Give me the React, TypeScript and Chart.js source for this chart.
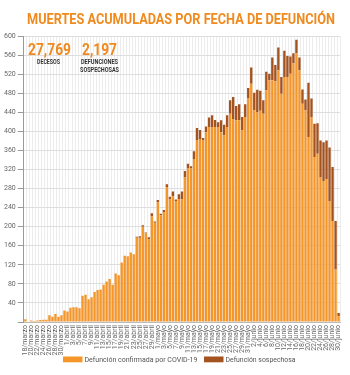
import { useEffect, useRef } from "react";
import { Chart, registerables } from "chart.js";
Chart.register(...registerables);

const dates = [
  "18/marzo","19/marzo","20/marzo","21/marzo","22/marzo","23/marzo","24/marzo","25/marzo","26/marzo","27/marzo","28/marzo","29/marzo","30/marzo","31/marzo",
  "1/abril","2/abril","3/abril","4/abril","5/abril","6/abril","7/abril","8/abril","9/abril","10/abril","11/abril","12/abril","13/abril","14/abril","15/abril","16/abril","17/abril","18/abril","19/abril","20/abril","21/abril","22/abril","23/abril","24/abril","25/abril","26/abril","27/abril","28/abril","29/abril","30/abril",
  "1/mayo","2/mayo","3/mayo","4/mayo","5/mayo","6/mayo","7/mayo","8/mayo","9/mayo","10/mayo","11/mayo","12/mayo","13/mayo","14/mayo","15/mayo","16/mayo","17/mayo","18/mayo","19/mayo","20/mayo","21/mayo","22/mayo","23/mayo","24/mayo","25/mayo","26/mayo","27/mayo","28/mayo","29/mayo","30/mayo","31/mayo",
  "1/junio","2/junio","3/junio","4/junio","5/junio","6/junio","7/junio","8/junio","9/junio","10/junio","11/junio","12/junio","13/junio","14/junio","15/junio","16/junio","17/junio","18/junio","19/junio","20/junio","21/junio","22/junio","23/junio","24/junio","25/junio","26/junio","27/junio","28/junio","29/junio","30/junio"
];

const confirmed = [
  6, 0, 3, 2, 3, 4, 5, 5, 14, 11,
  17, 11, 14, 24, 22, 30, 31, 31, 29, 55,
  57, 48, 52, 63, 67, 68, 78, 85, 90, 78,
  102, 98, 125, 139, 138, 146, 142, 177, 177, 200,
  186, 173, 222, 208, 251, 224, 230, 283, 257, 264,
  254, 258, 258, 303, 322, 322, 342, 382, 384, 381,
  398, 409, 409, 409, 409, 398, 392, 409, 437, 426,
  423, 423, 402, 430, 469, 500, 444, 440, 443, 437,
  486, 507, 507, 505, 528, 479, 514, 514, 521, 543,
  564, 528, 458, 444, 388, 430, 346, 353, 303, 296,
  300, 254, 212, 110, 12
];

const suspect = [
  0, 0, 0, 0, 0, 0, 0, 0, 0, 0,
  0, 0, 0, 0, 0, 0, 0, 0, 0, 0,
  0, 0, 0, 0, 0, 0, 0, 0, 0, 0,
  0, 0, 0, 0, 0, 0, 0, 2, 3, 3,
  2, 5, 6, 3, 5, 3, 5, 6, 6, 10,
  3, 10, 16, 14, 10, 5, 16, 25, 19, 5,
  12, 20, 25, 15, 10, 25, 22, 25, 28, 46,
  30, 34, 28, 27, 22, 34, 37, 47, 42, 28,
  39, 14, 48, 34, 48, 35, 55, 44, 36, 21,
  28, 27, 30, 23, 114, 39, 70, 64, 78, 81,
  81, 112, 113, 102, 7
];

const seriesNames = ["Defunción confirmada por COVID-19", "Defunción sospechosa"];
const titleText = "MUERTES ACUMULADAS POR FECHA DE DEFUNCIÓN";
const bigNumbers = ["27,769", "2,197"];
const bigCaptions = [["DECESOS"], ["DEFUNCIONES", "SOSPECHOSAS"]];
const yMax = 600;
const yStep = 20;

const ORANGE = "#F5962A";
const BROWN = "#A4521E";
const TITLE_ORANGE = "#F08A1E";
const FONT = 'Roboto, "Liberation Sans", sans-serif';

function fitText(ctx: CanvasRenderingContext2D, text: string, left: number, baseline: number, width: number, font: string) {
  ctx.font = font;
  const w = ctx.measureText(text).width;
  ctx.save();
  ctx.translate(left, baseline);
  ctx.scale(width / w, 1);
  ctx.textAlign = "left";
  ctx.textBaseline = "alphabetic";
  ctx.fillText(text, 0, 0);
  ctx.restore();
}

const overlay = {
  id: "overlay",
  afterDraw(chart: any) {
    const ctx = chart.ctx as CanvasRenderingContext2D;
    ctx.save();
    ctx.fillStyle = TITLE_ORANGE;
    fitText(ctx, titleText, 27, 24, 308, `bold 15.5px ${FONT}`);
    ctx.font = `bold 17.3px ${FONT}`;
    const s = 43 / ctx.measureText(bigNumbers[0]).width;
    const centers = [49.5, 99.5];
    bigNumbers.forEach((n, i) => {
      ctx.fillStyle = TITLE_ORANGE;
      ctx.font = `bold 17.3px ${FONT}`;
      const w = ctx.measureText(n).width * s;
      fitText(ctx, n, centers[i] - w / 2, 55, w, `bold 17.3px ${FONT}`);
    });
    ctx.fillStyle = "#333";
    fitText(ctx, bigCaptions[0][0], 37, 63.5, 23, `bold 6.3px ${FONT}`);
    fitText(ctx, bigCaptions[1][0], 81, 63.5, 37, `bold 6.3px ${FONT}`);
    fitText(ctx, bigCaptions[1][1], 80, 71.8, 39, `bold 6.3px ${FONT}`);
    const items = [
      { x: 63, color: ORANGE, text: seriesNames[0], tw: 113 },
      { x: 204, color: BROWN, text: seriesNames[1], tw: 70 },
    ];
    items.forEach((it) => {
      ctx.fillStyle = it.color;
      ctx.fillRect(it.x, 356.5, 19.5, 5.8);
      ctx.fillStyle = "#555";
      fitText(ctx, it.text, it.x + 21.5, 362, it.tw, `8px ${FONT}`);
    });
    ctx.restore();
  },
};

export default function App() {
  const ref = useRef<HTMLCanvasElement>(null);
  useEffect(() => {
    const chart = new Chart(ref.current!, {
      type: "bar",
      data: {
        labels: dates,
        datasets: [
          { label: seriesNames[0], data: confirmed, backgroundColor: ORANGE, barPercentage: 0.78, categoryPercentage: 1 },
          { label: seriesNames[1], data: suspect, backgroundColor: BROWN, barPercentage: 0.78, categoryPercentage: 1 },
        ],
      },
      options: {
        responsive: false,
        animation: false,
        layout: { padding: { top: 36, right: -2, bottom: 16.5, left: 2 } },
        plugins: { legend: { display: false }, tooltip: { enabled: false }, title: { display: false } },
        scales: {
          x: {
            stacked: true,
            grid: { color: "#ececec", drawTicks: false },
            border: { display: true, color: "#bbb" },
            ticks: {
              autoSkip: false,
              maxRotation: 90,
              minRotation: 90,
              padding: 3,
              color: "#666",
              font: { family: FONT, size: 7 },
              callback: (_v: any, i: number) => (i % 2 === 0 ? dates[i] : ""),
            },
          },
          y: {
            stacked: true,
            min: 0,
            max: yMax,
            grid: { color: "#dedede", tickLength: 6, tickColor: "#999" },
            border: { color: "#999" },
            ticks: {
              stepSize: yStep,
              padding: 2,
              color: "#666",
              font: { family: FONT, size: 7 },
              callback: (v: any) => (v === 0 ? "" : String(v)),
            },
          },
        },
      },
      plugins: [overlay],
    });
    return () => chart.destroy();
  }, []);
  return (
    <div style={{ position: "absolute", left: 0, top: 0, width: 350, height: 375, background: "#fff" }}>
      <canvas ref={ref} width={350} height={375} style={{ display: "block" }} />
    </div>
  );
}
